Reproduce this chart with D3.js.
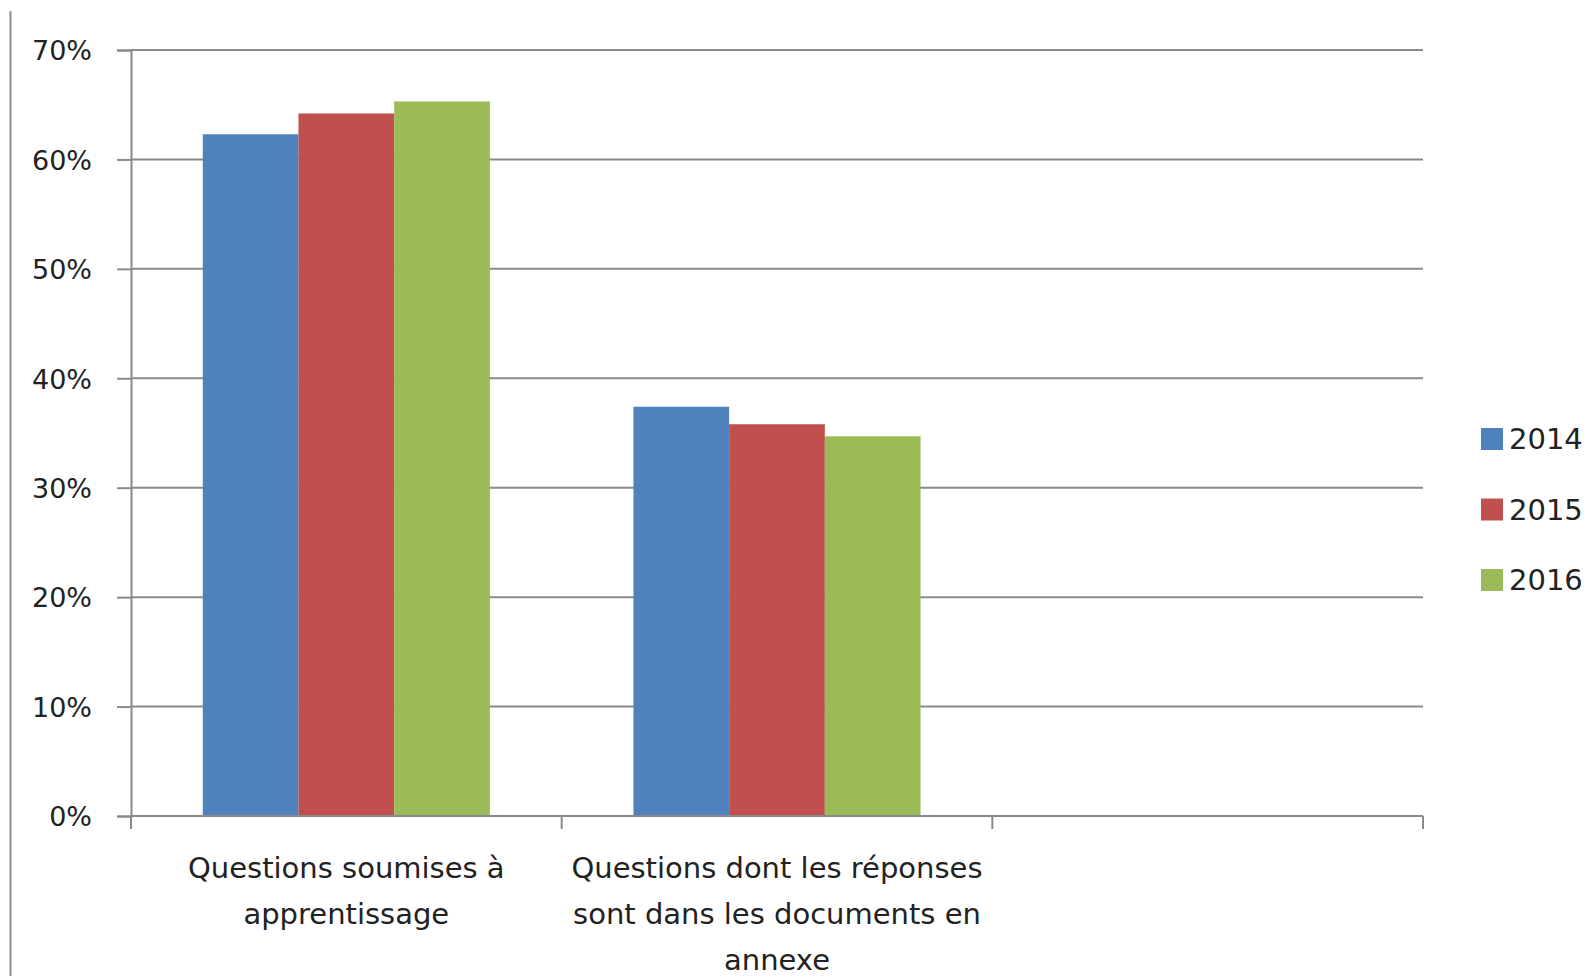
<!DOCTYPE html>
<html><head><meta charset="utf-8">
<script src="https://cdn.jsdelivr.net/npm/d3@7"></script>
<style>
html,body{margin:0;padding:0;background:#fff;}
svg{display:block;}
text{font-family:"DejaVu Sans",sans-serif;fill:#222;}
</style></head>
<body>
<svg id="chart" width="1589" height="976"></svg>
<script>
const categories = ["cat1", "cat2", "cat3"];
const categoryLabels = [
  ["Questions soumises à", "apprentissage"],
  ["Questions dont les réponses", "sont dans les documents en", "annexe"],
  []
];
const seriesNames = ["2014", "2015", "2016"];
const values2014 = [0.623, 0.374, null];
const values2015 = [0.642, 0.358, null];
const values2016 = [0.653, 0.347, null];
const seriesColors = ["#4F81BD", "#C0504D", "#9BBB59"];
const yTicks = [0, 0.1, 0.2, 0.3, 0.4, 0.5, 0.6, 0.7];

const seriesValues = [values2014, values2015, values2016];

(function () {
const svg = d3.select("#chart");
const mLeft = 131, mRight = 1423, mTop = 50, mBottom = 816;
const gridColor = "#8a8a8a";

const x0 = d3.scaleBand().domain(categories).range([mLeft, mRight]).padding(0);
const x1 = d3.scaleBand().domain(seriesNames).range([0, x0.bandwidth()]).paddingInner(0).paddingOuter(0.75);
const y = d3.scaleLinear().domain([0, 0.7]).range([mBottom, mTop]);

// chart area left border
svg.append("line").attr("x1", 10.5).attr("x2", 10.5).attr("y1", 11).attr("y2", 976)
  .attr("stroke", "#8c8c8c").attr("stroke-width", 2);

// gridlines
svg.append("g").selectAll("line").data(yTicks.filter(d => d > 0)).join("line")
  .attr("x1", mLeft).attr("x2", mRight)
  .attr("y1", d => y(d)).attr("y2", d => y(d))
  .attr("stroke", gridColor).attr("stroke-width", 2);

// bars
const groups = svg.append("g").selectAll("g").data(seriesNames).join("g")
  .attr("fill", (d, i) => seriesColors[i]);
groups.selectAll("rect")
  .data((s, si) => categories.map((c, ci) => ({c, s, v: seriesValues[si][ci]})).filter(d => d.v != null))
  .join("rect")
  .attr("x", d => x0(d.c) + x1(d.s))
  .attr("width", x1.bandwidth())
  .attr("y", d => y(d.v))
  .attr("height", d => y(0) - y(d.v));

// y axis
const yAxis = d3.axisLeft(y).tickValues(yTicks).tickFormat(d3.format(".0%")).tickSize(14).tickPadding(25);
const gy = svg.append("g").attr("transform", `translate(${mLeft},0)`).call(yAxis);
gy.select(".domain").attr("stroke", gridColor).attr("stroke-width", 2);
gy.selectAll(".tick line").attr("stroke", gridColor).attr("stroke-width", 2);
gy.selectAll(".tick text").attr("font-size", 27).attr("font-family", "DejaVu Sans").attr("fill", "#222").attr("dy", "0.36em");

// x axis
const xTickPos = categories.map(c => x0(c)).concat([mRight]);
svg.append("line").attr("x1", mLeft).attr("x2", mRight).attr("y1", mBottom).attr("y2", mBottom)
  .attr("stroke", gridColor).attr("stroke-width", 2);
svg.append("g").selectAll("line").data(xTickPos).join("line")
  .attr("x1", d => d).attr("x2", d => d).attr("y1", mBottom).attr("y2", mBottom + 13)
  .attr("stroke", gridColor).attr("stroke-width", 2);

// category labels
const lab = svg.append("g").selectAll("text").data(categories).join("text")
  .attr("text-anchor", "middle").attr("font-size", 29);
lab.each(function(c, i) {
  d3.select(this).selectAll("tspan").data(categoryLabels[i]).join("tspan")
    .attr("x", x0(c) + x0.bandwidth() / 2)
    .attr("y", (d, j) => 878 + j * 46)
    .text(d => d);
});

// legend
const leg = svg.append("g").selectAll("g").data(seriesNames).join("g")
  .attr("transform", (d, i) => `translate(1481,${439 + i * 70.5})`);
leg.append("rect").attr("x", 0).attr("y", -11).attr("width", 22).attr("height", 22)
  .attr("fill", (d, i) => seriesColors[i]);
leg.append("text").attr("x", 28).attr("dy", "0.36em").attr("font-size", 29).text(d => d);
})();
</script>
</body></html>
